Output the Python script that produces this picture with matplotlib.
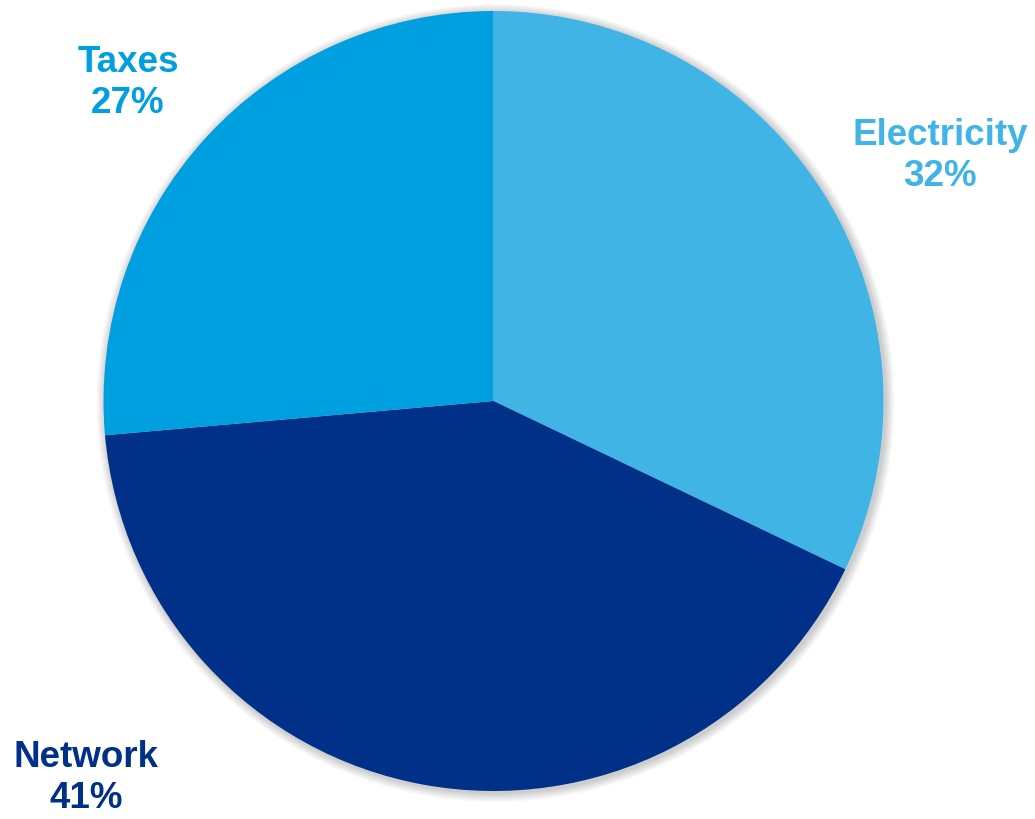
import matplotlib.pyplot as plt
from matplotlib.patches import Circle

labels = ["Electricity", "Network", "Taxes"]
shares = [32.1, 41.5, 26.4]  # slice sizes as drawn
pct_labels = ["32%", "41%", "27%"]
colors = ["#41B4E6", "#003087", "#009FDF"]

W, H = 1035, 819
fig = plt.figure(figsize=(W / 100, H / 100), dpi=100)
ax = fig.add_axes([0, 0, 1, 1])

cx, cy, r = 493.5, H - 401, 390

# soft shadow around the pie
for k in range(10, 0, -1):
    ax.add_patch(Circle((cx + 2, cy - 2), r + k * 0.9, color="black",
                        alpha=0.018, lw=0, zorder=1))

ax.pie(shares, colors=colors, startangle=90, counterclock=False,
       center=(cx, cy), radius=r, frame=True,
       wedgeprops=dict(linewidth=0, zorder=2))
ax.set_xlim(0, W)
ax.set_ylim(0, H)
ax.set_aspect("equal")
ax.axis("off")

label_pos = [(940, H - 156), (86, H - 778), (128, H - 83)]
for name, pct, col, (x, y) in zip(labels, pct_labels, colors, label_pos):
    ax.text(x, y, f"{name}\n{pct}", ha="center", va="center",
            fontsize=26.5, fontweight="bold", color=col,
            family="Liberation Sans", linespacing=1.2, zorder=5)

fig.savefig("out.png", dpi=100)
